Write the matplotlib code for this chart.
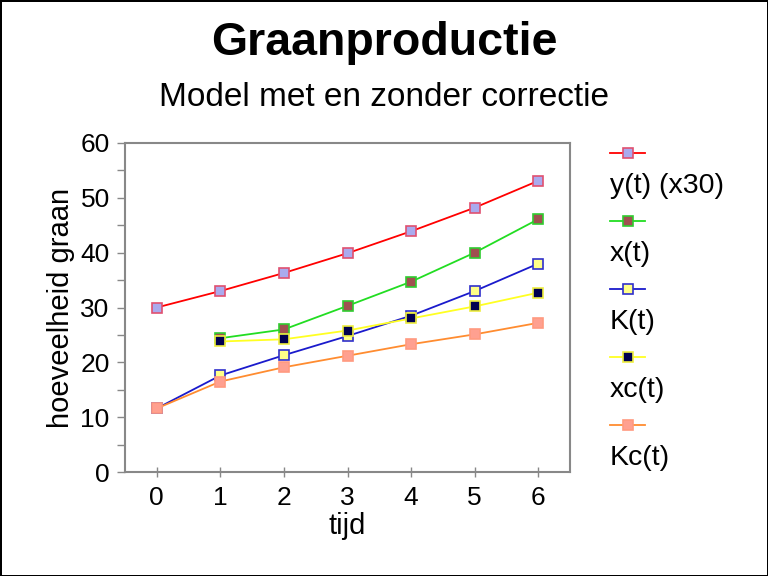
import matplotlib.pyplot as plt
from matplotlib.lines import Line2D

plt.rcParams['font.family'] = ['Liberation Sans', 'DejaVu Sans']

t = [0, 1, 2, 3, 4, 5, 6]
t_c = [1, 2, 3, 4, 5, 6]
y_x30 = [30.0, 33.0, 36.3, 39.9, 43.9, 48.2, 53.1]
x_vals = [24.4, 26.0, 30.3, 34.7, 40.0, 46.1]
K_vals = [11.6, 17.6, 21.3, 24.8, 28.5, 33.0, 38.0]
xc_vals = [23.8, 24.2, 25.8, 28.0, 30.2, 32.7]
Kc_vals = [11.6, 16.5, 19.1, 21.2, 23.3, 25.1, 27.2]

labels = ['y(t) (x30)', 'x(t)', 'K(t)', 'xc(t)', 'Kc(t)']
line_colors = ['#ff0000', '#22dd22', '#1a1acc', '#ffff22', '#ff8c30']
face_colors = ['#aaaaee', '#a05050', '#ffff88', '#000050', '#ffa090']
edge_colors = ['#e05070', '#30cc30', '#3030cc', '#eeee40', '#ff9a80']

fig = plt.figure(figsize=(7.68, 5.76), dpi=100)
fig.patch.set_edgecolor('black')
fig.patch.set_linewidth(2)

ax = fig.add_axes([125 / 768, 1 - 472 / 576, 445 / 768, 329 / 576])

series = [(t, y_x30), (t_c, x_vals), (t, K_vals), (t_c, xc_vals), (t, Kc_vals)]
for i, (xs, ys) in enumerate(series):
    ax.plot(xs, ys, color=line_colors[i], lw=1.3, marker='s', ms=6.5,
            mfc=face_colors[i], mec=edge_colors[i], mew=1.2)

ax.set_xlim(-0.5, 6.5)
ax.set_ylim(0, 60)
ax.set_xticks(t)
ax.set_yticks(range(0, 61, 10))
ax.set_yticks(range(5, 60, 10), minor=True)
for s in ax.spines.values():
    s.set_color('#888888')
    s.set_linewidth(1.5)
ax.tick_params(axis='both', which='both', colors='#888888', labelcolor='black',
               labelsize=19, width=1)
ax.tick_params(axis='y', which='both', length=6, pad=5)
ax.tick_params(axis='x', direction='inout', length=7.5, pad=6)
ax.set_xlabel('tijd', fontsize=21, labelpad=2)
ax.set_ylabel('hoeveelheid graan', fontsize=21, labelpad=4)

fig.text(0.5, 1 - 43 / 576, 'Graanproductie', ha='center', va='center',
         fontsize=33.5, fontweight='bold')
fig.text(0.5, 1 - 97 / 576, 'Model met en zonder correctie', ha='center',
         va='center', fontsize=24)

# legend: line sample above each label
for i, lab in enumerate(labels):
    yl = 1 - (153 + 68 * i) / 576
    fig.add_artist(Line2D([610 / 768, 645 / 768], [yl, yl], color=line_colors[i], lw=1.3))
    fig.add_artist(Line2D([627.5 / 768], [yl], marker='s', ms=6.5, mfc=face_colors[i],
                          mec=edge_colors[i], mew=1.2))
    fig.text(610 / 768, 1 - (186 + 68 * i) / 576, lab, ha='left', va='center',
             fontsize=20.5)

fig.savefig('out.png', dpi=100)
